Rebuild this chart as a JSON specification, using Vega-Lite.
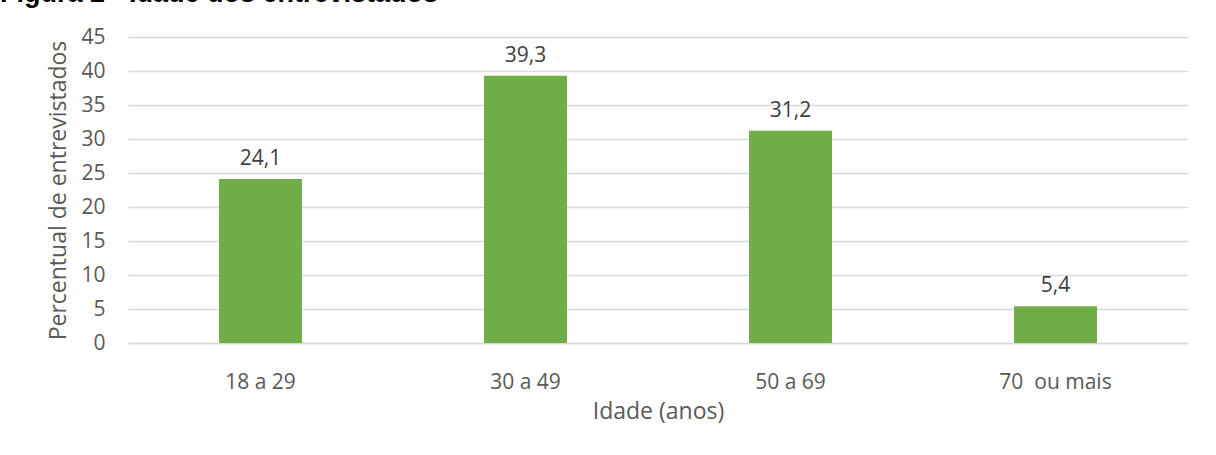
{
  "$schema": "https://vega.github.io/schema/vega-lite/v6.json",
  "width": 1060,
  "height": 306,
  "autosize": {"type": "none"},
  "padding": {"left": 128, "top": 37, "right": 28, "bottom": 112},
  "background": "white",
  "title": {
    "text": "Figura 2 - Idade dos entrevistados",
    "anchor": "start",
    "frame": "group",
    "font": "Liberation Sans",
    "fontWeight": "bold",
    "fontSize": 27,
    "color": "black",
    "baseline": "alphabetic",
    "offset": -3,
    "dx": -128
  },
  "config": {
    "view": {"stroke": null},
    "locale": {"number": {"decimal": ",", "thousands": ".", "grouping": [3], "currency": ["R$", ""]}},
    "font": "Open Sans"
  },
  "data": {
    "values": [
      {"idade": "18 a 29", "percentual": 24.1},
      {"idade": "30 a 49", "percentual": 39.3},
      {"idade": "50 a 69", "percentual": 31.2},
      {"idade": "70  ou mais", "percentual": 5.4}
    ]
  },
  "encoding": {
    "x": {
      "field": "idade",
      "type": "nominal",
      "sort": null,
      "scale": {"paddingInner": 0.687, "paddingOuter": 0.3435},
      "axis": {
        "title": "Idade (anos)",
        "titleFont": "Open Sans",
        "titleFontSize": 23,
        "titleFontWeight": "normal",
        "titleColor": "#595959",
        "titlePadding": 8,
        "labelAngle": 0,
        "labelFont": "Open Sans",
        "labelFontSize": 21,
        "labelColor": "#595959",
        "labelPadding": 28,
        "labelExpr": "replace(datum.label, '  ', '\u00a0 ')",
        "ticks": false,
        "domainColor": "#d9d9d9",
        "domainWidth": 1.3
      }
    },
    "y": {
      "field": "percentual",
      "type": "quantitative",
      "scale": {"domain": [0, 45], "nice": false},
      "axis": {
        "title": "Percentual de entrevistados",
        "titleFont": "Open Sans",
        "titleFontSize": 23,
        "titleFontWeight": "normal",
        "titleColor": "#595959",
        "titlePadding": 10,
        "values": [0, 5, 10, 15, 20, 25, 30, 35, 40, 45],
        "labelFont": "Open Sans",
        "labelFontSize": 21,
        "labelColor": "#595959",
        "labelPadding": 23,
        "ticks": false,
        "domain": false,
        "gridColor": "#d9d9d9",
        "gridWidth": 1.3
      }
    }
  },
  "layer": [
    {"mark": {"type": "bar", "color": "#70ad47"}},
    {
      "mark": {"type": "text", "baseline": "alphabetic", "dy": -14, "fontSize": 21, "font": "Open Sans", "color": "#404040"},
      "encoding": {"text": {"field": "percentual", "type": "quantitative", "format": ".1f"}}
    }
  ]
}
